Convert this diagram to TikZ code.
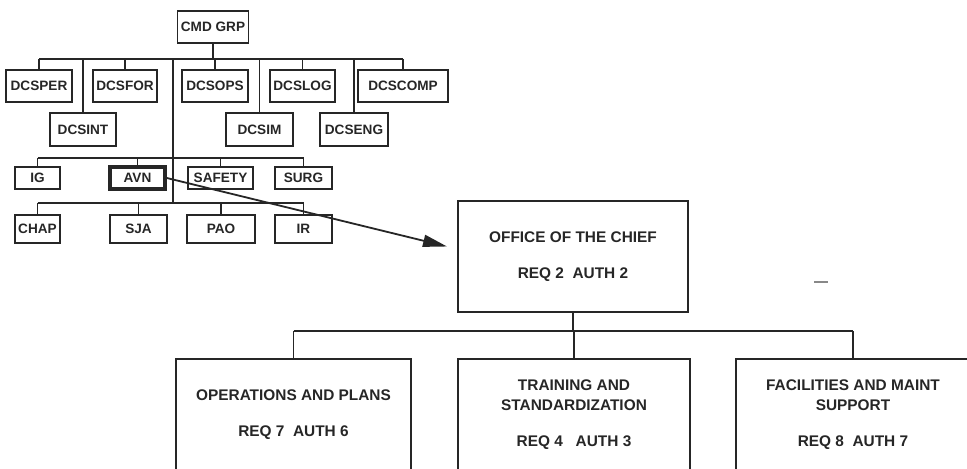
\documentclass[tikz,border=0pt]{standalone}
\usepackage{fontspec}
\setmainfont{Liberation Sans}
\usetikzlibrary{arrows.meta,positioning}
\definecolor{Ink}{HTML}{262626}

\begin{document}
\begin{tikzpicture}[
    x=0.5pt, y=-0.5pt,
    font=\fontsize{6.8}{8}\selectfont\bfseries,
    unit/.style={draw=Ink, text=Ink, line width=0.9pt, inner sep=0pt, minimum height=16pt},
    chief/.style={unit, line width=1.8pt},
    office/.style={draw=Ink, text=Ink, line width=1pt, align=center, inner sep=0pt, minimum height=56pt, font=\fontsize{7.7}{10}\selectfont\bfseries},
    link/.style={draw=Ink, line width=0.8pt},
    arr/.style={-{Triangle[length=12pt, width=6pt]}, line width=0.9pt, draw=Ink}
]
\useasboundingbox (0,0) rectangle (967,469);
\clip (0,0) rectangle (967,469);

% command group and staff
\node[unit, minimum width=35.5pt] (cmd) at (213,27) {CMD GRP};
\node[unit, minimum width=33pt] (dcsper) at (39,86) {DCSPER};
\node[unit, minimum width=32pt] (dcsfor) at (125,86) {DCSFOR};
\node[unit, minimum width=33pt] (dcsops) at (215,86) {DCSOPS};
\node[unit, minimum width=32.5pt] (dcslog) at (302.5,86) {DCSLOG};
\node[unit, minimum width=45pt] (dcscomp) at (403,86) {DCSCOMP};
\node[unit, minimum width=33pt, minimum height=16.5pt] (dcsint) at (83,129.5) {DCSINT};
\node[unit, minimum width=33.5pt, minimum height=16.5pt] (dcsim) at (259.5,129.5) {DCSIM};
\node[unit, minimum width=34pt, minimum height=16.5pt] (dcseng) at (354,129.5) {DCSENG};

% special staff
\node[unit, minimum width=22.5pt, minimum height=11pt] (ig) at (37.5,178) {IG};
\node[chief, minimum width=27.5pt, minimum height=11pt] (avn) at (137.5,178) {AVN};
\node[unit, minimum width=32.5pt, minimum height=11pt] (safety) at (220.5,178) {SAFETY};
\node[unit, minimum width=28.5pt, minimum height=11pt] (surg) at (303.5,178) {SURG};
\node[unit, minimum width=22.5pt, minimum height=14pt] (chap) at (37.5,229) {CHAP};
\node[unit, minimum width=28.5pt, minimum height=14pt] (sja) at (138.5,229) {SJA};
\node[unit, minimum width=34pt, minimum height=14pt] (pao) at (221,229) {PAO};
\node[unit, minimum width=28.5pt, minimum height=14pt] (ir) at (303.5,229) {IR};

% aviation office
\node[office, minimum width=115pt, minimum height=55.5pt] (office) at (573,256.5) {OFFICE OF THE CHIEF\\[8pt]REQ 2\ \ AUTH 2};
\node[office, minimum width=117.5pt] (ops) at (293.5,415) {OPERATIONS AND PLANS\\[8pt]REQ 7\ \ AUTH 6};
\node[office, minimum width=116pt] (train) at (574,415) {TRAINING AND\\STANDARDIZATION\\[8pt]REQ 4\ \ \ AUTH 3};
\node[office, minimum width=117pt] (fac) at (853,415) {FACILITIES AND MAINT\\SUPPORT\\[8pt]REQ 8\ \ AUTH 7};

\coordinate (staffbus) at (173,59);
\coordinate (specbus) at (173,158);
\coordinate (persbus) at (173,203);
\coordinate (branchbus) at (569,331);

\draw[link] (cmd.south) -- (cmd.south |- staffbus);
\draw[link] (dcsper.north |- staffbus) -- (dcscomp.north |- staffbus);
\foreach \n in {dcsper,dcsint,dcsfor,dcsops,dcsim,dcslog,dcseng,dcscomp}{\draw[link] (\n.north) -- (\n.north |- staffbus);}
\draw[link] (staffbus) -- (persbus);
\draw[link] (ig.north |- specbus) -- (surg.north |- specbus);
\foreach \n in {ig,avn,safety,surg}{\draw[link] (\n.north) -- (\n.north |- specbus);}
\draw[link] (chap.north |- persbus) -- (ir.north |- persbus);
\foreach \n in {chap,sja,pao,ir}{\draw[link] (\n.north) -- (\n.north |- persbus);}

\draw[arr] (avn.east) -- ([xshift=-5pt,yshift=5pt]office.west);

\draw[link] (office.south) -- (office.south |- branchbus);
\draw[link] (ops.north |- branchbus) -- (fac.north |- branchbus);
\foreach \n in {ops,train,fac}{\draw[link] (\n.north) -- (\n.north |- branchbus);}

\draw[Ink!55, line width=0.8pt] (814,282) -- (828,282);
\end{tikzpicture}
\end{document}
